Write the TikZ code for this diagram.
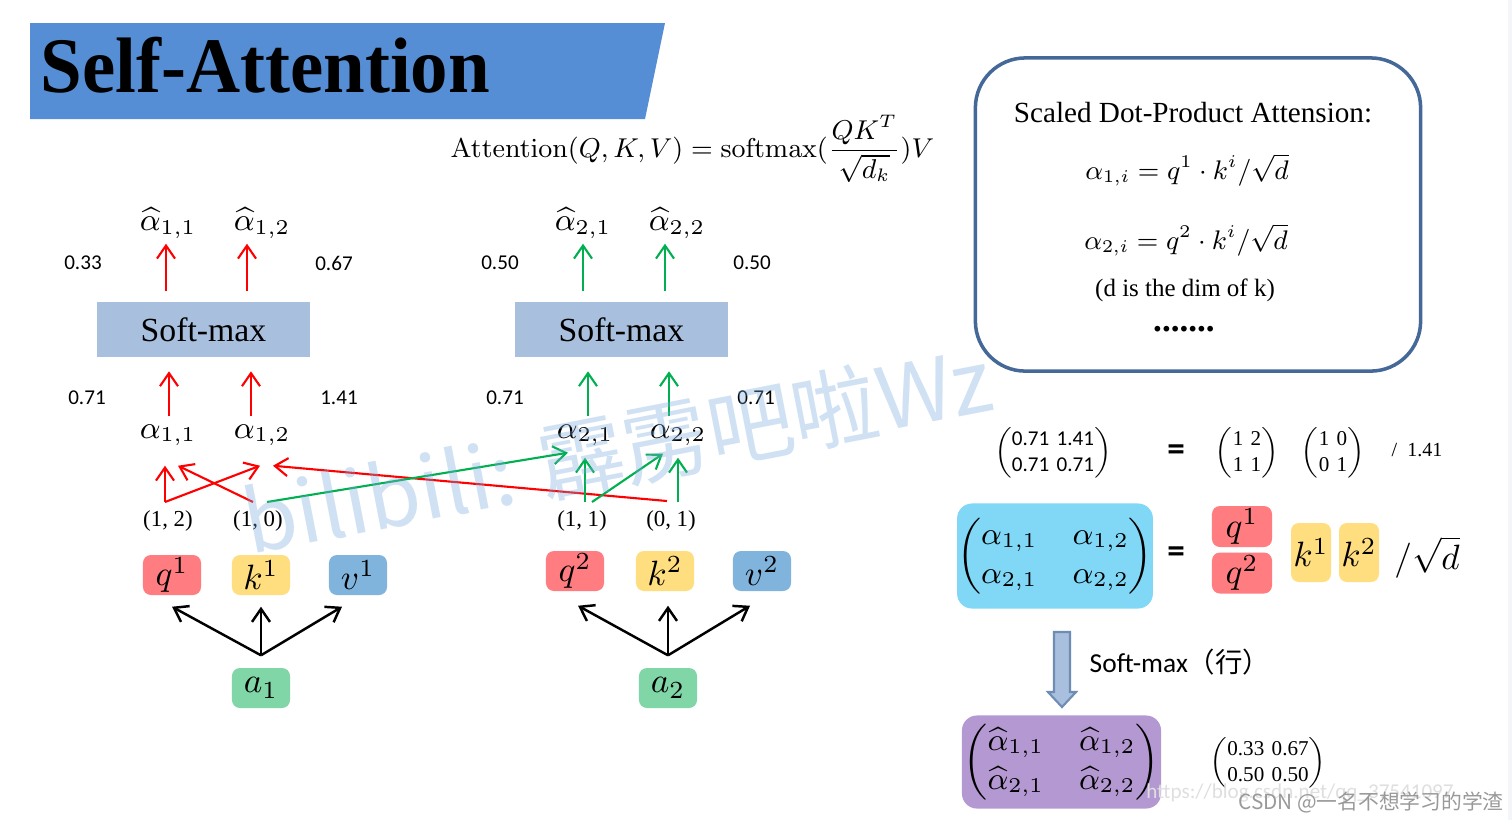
\RequirePackage{fix-cm}
\documentclass[tikz,border=0pt]{standalone}
\usepackage{amsmath}
\usepackage[no-math]{fontspec}
\setmainfont{Liberation Serif}
\newfontfamily\numfont{Carlito}
\newfontfamily\cjkfont{Noto Sans CJK SC}
\usetikzlibrary{arrows.meta,calc}
\definecolor{BannerBlue}{RGB}{85,142,213}
\definecolor{SoftBlue}{RGB}{168,192,222}
\definecolor{ArrRed}{RGB}{255,0,0}
\definecolor{ArrGreen}{RGB}{0,176,80}
\definecolor{QColor}{RGB}{255,124,128}
\definecolor{KColor}{RGB}{255,222,128}
\definecolor{VColor}{RGB}{128,180,220}
\definecolor{AColor}{RGB}{128,214,166}
\definecolor{PanelBorder}{RGB}{68,104,152}
\definecolor{MatBlue}{RGB}{128,216,246}
\definecolor{MatPurple}{RGB}{180,152,210}
\definecolor{ArrowEdge}{RGB}{110,140,180}
\definecolor{MarkBlue}{RGB}{120,170,222}
\definecolor{EdgeGray}{RGB}{244,245,248}
\newcommand{\nummat}[4]{$\left(\begin{tabular}{@{}c@{\hspace{0.35em}}c@{}}#1&#2\\#3&#4\end{tabular}\right)$}
\tikzset{
  qbox/.style={fill=QColor, rounded corners=0.8mm, minimum width=5.8mm, minimum height=4mm, inner sep=0pt, font=\fontsize{10}{12}\selectfont},
  kbox/.style={qbox, fill=KColor},
  vbox/.style={qbox, fill=VColor},
  abox/.style={qbox, fill=AColor},
  smbox/.style={fill=SoftBlue, minimum width=21.3mm, minimum height=5.5mm, inner sep=0pt, font=\fontsize{9.6}{11}\selectfont},
  alab/.style={minimum height=4mm, inner sep=0pt, font=\fontsize{9}{11}\selectfont},
  numlab/.style={inner sep=0pt, font=\numfont\fontsize{6}{7}\selectfont},
  pairlab/.style={inner sep=0pt, font=\fontsize{6.5}{8}\selectfont},
  redarr/.style={draw=ArrRed, line width=0.6pt, -{Straight Barb[length=1.3mm,width=1.8mm]}},
  greenarr/.style={redarr, draw=ArrGreen},
  blkarr/.style={redarr, draw=black, line width=0.7pt},
  panelbox/.style={draw=PanelBorder, line width=1pt, rounded corners=5mm, minimum width=4.45cm, minimum height=3.13cm},
  panelmath/.style={inner sep=0pt, font=\fontsize{9}{11}\selectfont},
  matbox/.style={rounded corners=1.5mm, minimum width=1.9cm, minimum height=1.05cm, inner sep=0pt, font=\fontsize{9}{11}\selectfont},
  smallmat/.style={inner sep=0pt, font=\fontsize{6}{7.5}\selectfont},
  eqsign/.style={inner sep=0pt, font=\numfont\bfseries\fontsize{10}{12}\selectfont},
}
\begin{document}
\begin{tikzpicture}[x=0.01cm, y=-0.01cm]
  \path[fill=white, use as bounding box] (0,0) rectangle (1512,820);
  \fill[EdgeGray] (1508,0) rectangle (1512,820);

  \fill[BannerBlue] (30,23) -- (665,23) -- (645,119) -- (30,119) -- cycle;
  \node[anchor=base west, inner sep=0pt, font=\bfseries\fontsize{21.3}{24}\selectfont] (title) at (40,92) {\scalebox{1}[1.05]{Self-Attention}};
  \node[anchor=base west, inner sep=0pt, font=\fontsize{9}{11}\selectfont] (attn) at (450,157)
    {\scalebox{0.86}{$\mathrm{Attention}(Q,K,V)=\mathrm{softmax}(\dfrac{QK^T}{\sqrt{d_k}})V$}};

  \node[qbox] (q1) at (172,575) {$q^1$};
  \node[kbox] (k1) at (261,575) {$k^1$};
  \node[vbox] (v1) at (358,575) {$v^1$};
  \node[abox] (a1) at (261,688) {$a_1$};
  \node[qbox] (q2) at (575,571) {$q^2$};
  \node[kbox] (k2) at (665,571) {$k^2$};
  \node[vbox] (v2) at (762,571) {$v^2$};
  \node[abox] (a2) at (668,688) {$a_2$};

  \node[pairlab] (p12) at (168,521) {(1, 2)};
  \node[pairlab] (p10) at (258,521) {(1, 0)};
  \node[pairlab] (p11) at (582,521) {(1, 1)};
  \node[pairlab] (p01) at (671,521) {(0, 1)};

  \node[alab] (al11) at (168,435) {$\alpha_{1,1}$};
  \node[alab] (al12) at (262,435) {$\alpha_{1,2}$};
  \node[alab] (al21) at (585,435) {$\alpha_{2,1}$};
  \node[alab] (al22) at (678,435) {$\alpha_{2,2}$};
  \node[alab] (ah11) at (168,223) {$\widehat{\alpha}_{1,1}$};
  \node[alab] (ah12) at (262,223) {$\widehat{\alpha}_{1,2}$};
  \node[alab] (ah21) at (583,223) {$\widehat{\alpha}_{2,1}$};
  \node[alab] (ah22) at (677,223) {$\widehat{\alpha}_{2,2}$};

  \node[smbox] (sm1) at (203.5,329.5) {Soft-max};
  \node[smbox] (sm2) at (621.5,329.5) {Soft-max};

  \node[numlab] (n033) at (83,263) {0.33};
  \node[numlab] (n067) at (334,263) {0.67};
  \node[numlab] (n050a) at (500,263) {0.50};
  \node[numlab] (n050b) at (752,263) {0.50};
  \node[numlab] (n071a) at (87,398) {0.71};
  \node[numlab] (n141) at (339,398) {1.41};
  \node[numlab] (n071b) at (505,398) {0.71};
  \node[numlab] (n071c) at (756,398) {0.71};

  \foreach \n/\dx in {ah11/-2,ah12/-15}
    \draw[redarr] ($(\n.south)+(\dx,47)$) -- ($(\n.south)+(\dx,0)$);
  \foreach \n/\dx in {ah21/0,ah22/-12}
    \draw[greenarr] ($(\n.south)+(\dx,47)$) -- ($(\n.south)+(\dx,0)$);
  \foreach \n/\dx in {al11/1,al12/-11}
    \draw[redarr] ($(\n.north)+(\dx,2)$) -- ($(\n.north)+(\dx,-43)$);
  \foreach \n/\dx in {al21/3,al22/-9}
    \draw[greenarr] ($(\n.north)+(\dx,2)$) -- ($(\n.north)+(\dx,-43)$);

  \coordinate (s12) at (165,502);
  \coordinate (s10) at (253,502);
  \coordinate (s10g) at (267,502);
  \coordinate (s11) at (585,502);
  \coordinate (s11g) at (592,502);
  \coordinate (s01) at (667,501);
  \coordinate (s01g) at (678,502);
  \draw[redarr] (s12) -- ($(al11.south)+(-3,10)$);
  \draw[redarr] (s12) -- ($(al12.south)+(-2,10)$);
  \draw[redarr] (s10) -- ($(al11.south)+(10,10)$);
  \draw[redarr] (s01) -- ($(al12.south)+(11,10)$);
  \draw[greenarr] (s10g) -- ($(al21.south)+(-17,-3)$);
  \draw[greenarr] (s11) -- ($(al21.south)+(0,2)$);
  \draw[greenarr] (s11g) -- ($(al22.south)+(-15,-2)$);
  \draw[greenarr] (s01g) -- ($(al22.south)+(0,2)$);

  \coordinate (j1) at ($(a1.north)+(0,-12)$);
  \coordinate (j2) at ($(a2.north)+(0,-12)$);
  \foreach \n/\dx/\dy in {q1/0/11,k1/0/11,v1/-16/11}
    \draw[blkarr] (j1) -- ($(\n.south)+(\dx,\dy)$);
  \foreach \n/\dx/\dy in {q2/3/14,k2/3/14,v2/-12/14}
    \draw[blkarr] (j2) -- ($(\n.south)+(\dx,\dy)$);

  \node[panelbox] (panel) at (1198,214.5) {};
  \node[inner sep=0pt, font=\fontsize{8.3}{10}\selectfont] (ptitle) at (1193,113) {Scaled Dot-Product Attension:};
  \node[panelmath] (eq1) at (1187,170) {\scalebox{0.85}{$\alpha_{1,i}=q^1\cdot k^i/\sqrt{d}$}};
  \node[panelmath] (eq2) at (1186,240) {\scalebox{0.85}{$\alpha_{2,i}=q^2\cdot k^i/\sqrt{d}$}};
  \node[inner sep=0pt, font=\fontsize{7.1}{9}\selectfont] (dnote) at (1185,290) {(d is the dim of k)};
  \node[inner sep=0pt, anchor=base, font=\bfseries\fontsize{10}{12}\selectfont] (pdots) at (1184,331) {.......};

  \node[smallmat, font=\numfont\fontsize{6}{7.5}\selectfont] (mscore) at (1053,453) {\nummat{0.71}{1.41}{0.71}{0.71}};
  \node[eqsign] (eqa) at (1176,453) {=};
  \node[smallmat] (mq) at (1247,453) {\nummat{1}{2}{1}{1}};
  \node[smallmat] (mk) at (1333,453) {\nummat{1}{0}{0}{1}};
  \node[inner sep=0pt, font=\fontsize{5.7}{7}\selectfont] (div1) at (1417,450) {/\ \ 1.41};

  \node[matbox, fill=MatBlue] (amat) at (1055,556)
    {$\left(\begin{matrix}\alpha_{1,1}&\alpha_{1,2}\\\alpha_{2,1}&\alpha_{2,2}\end{matrix}\right)$};
  \node[eqsign] (eqb) at (1176,555) {=};
  \node[qbox, minimum width=6mm, minimum height=4.1mm] (qq1) at (1242,526.5) {$q^1$};
  \node[qbox, minimum width=6mm, minimum height=4.1mm] (qq2) at (1242,573) {$q^2$};
  \node[kbox, minimum width=4mm, minimum height=5.9mm] (kk1) at (1311,552.5) {$k^1$};
  \node[kbox, minimum width=4mm, minimum height=5.9mm] (kk2) at (1359,552.5) {$k^2$};
  \node[inner sep=0pt, font=\fontsize{10}{12}\selectfont] (divd) at (1427,557) {$/\sqrt{d}$};

  \draw[ArrowEdge, fill=SoftBlue, line width=0.6pt] (1054,632) -- (1070,632) -- (1070,692) -- (1076,692)
    -- (1062,707) -- (1048,692) -- (1054,692) -- cycle;
  \node[anchor=west, inner sep=0pt, font=\numfont\fontsize{7.8}{9}\selectfont] (smrow) at (1089,662) {Soft-max{\cjkfont（行）}};

  \node[matbox, fill=MatPurple, minimum width=1.99cm, minimum height=0.93cm] (hmat) at (1061.5,762)
    {$\left(\begin{matrix}\widehat{\alpha}_{1,1}&\widehat{\alpha}_{1,2}\\\widehat{\alpha}_{2,1}&\widehat{\alpha}_{2,2}\end{matrix}\right)$};
  \node[smallmat] (mhat) at (1268,763) {\nummat{0.33}{0.67}{0.50}{0.50}};

  \node[rotate=11, anchor=base west, inner sep=0pt, text=MarkBlue, opacity=0.35, font=\cjkfont\fontsize{24.5}{28}\selectfont] (wmark) at (250,555) {bilibili: 霹雳吧啦Wz};
  \node[inner sep=0pt, text=gray!25, font=\numfont\fontsize{6}{7}\selectfont] (url) at (1300,793) {https://blog.csdn.net/qq\_37541097};
  \node[inner sep=0pt, text=gray!80!white, font=\cjkfont\fontsize{5.9}{7}\selectfont] (csdn) at (1371,802) {CSDN @一名不想学习的学渣};
\end{tikzpicture}
\end{document}
